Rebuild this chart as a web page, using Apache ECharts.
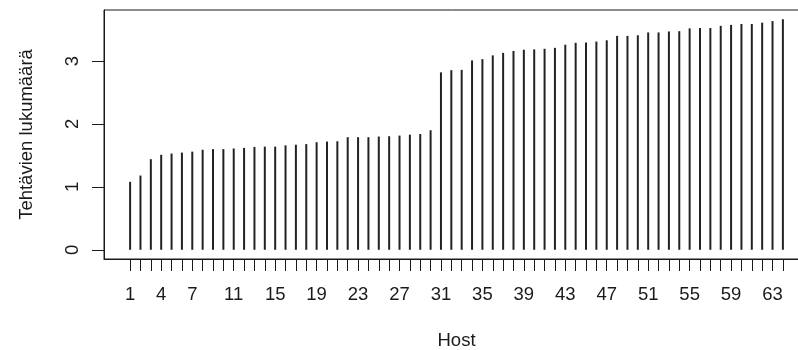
<!DOCTYPE html>
<html>
<head>
<meta charset="utf-8" />
<title>Tehtävien lukumäärä per host</title>
<script src="https://cdn.jsdelivr.net/npm/echarts@6/dist/echarts.min.js"></script>
<style>
  html, body { margin: 0; padding: 0; background: #fff; }
  #container { width: 798px; height: 350px; }
</style>
</head>
<body>
<div id="container"></div>
<script type="text/javascript">
// tasks per host, sorted ascending
var taskCounts = [
  1.08, 1.18, 1.44, 1.51, 1.53, 1.545, 1.56, 1.59, 1.60, 1.60,
  1.61, 1.62, 1.635, 1.64, 1.64, 1.66, 1.67, 1.68, 1.71, 1.72,
  1.725, 1.79, 1.79, 1.79, 1.80, 1.805, 1.815, 1.83, 1.84, 1.90,
  2.82, 2.855, 2.86, 3.01, 3.03, 3.09, 3.13, 3.16, 3.18, 3.185,
  3.195, 3.21, 3.26, 3.29, 3.295, 3.31, 3.33, 3.40, 3.40, 3.41,
  3.455, 3.455, 3.47, 3.475, 3.52, 3.525, 3.525, 3.56, 3.575, 3.59,
  3.59, 3.61, 3.635, 3.665
];
var xLabelValues = [1, 4, 7, 11, 15, 19, 23, 27, 31, 35, 39, 43, 47, 51, 55, 59, 63];
var yLabelValues = [0, 1, 2, 3];

var hosts = taskCounts.map(function (v, i) { return i + 1; });
var n = hosts.length;
var yMax = Math.max.apply(null, taskCounts);

var fontFamily = '"Liberation Sans", Arial, Helvetica, sans-serif';
var ink = '#1a1a1a';

var chart = echarts.init(document.getElementById('container'), null, { renderer: 'canvas' });

var option = {
  animation: false,
  grid: {
    left: 104, top: 10, right: -11, bottom: 91,
    containLabel: false,
    outerBoundsMode: 'none',
    show: true, borderColor: ink, borderWidth: 1, backgroundColor: 'transparent'
  },
  xAxis: {
    type: 'value',
    // R style 4% padding of the data range
    min: 1 - (n - 1) * 0.04,
    max: n + (n - 1) * 0.04,
    name: 'Host',
    nameLocation: 'middle',
    nameGap: 72,
    nameTextStyle: { fontFamily: fontFamily, fontSize: 18.5, color: ink },
    splitLine: { show: false },
    axisLine: { onZero: false, lineStyle: { color: ink, width: 1 } },
    axisTick: { length: 12, customValues: hosts, lineStyle: { color: ink, width: 1 } },
    axisLabel: {
      customValues: xLabelValues,
      margin: 26,
      fontFamily: fontFamily, fontSize: 18.5, color: ink
    }
  },
  yAxis: {
    type: 'value',
    min: -yMax * 0.04,
    max: yMax * 1.04,
    name: 'Tehtävien lukumäärä',
    nameLocation: 'middle',
    nameGap: 68,
    nameTextStyle: { fontFamily: fontFamily, fontSize: 18.5, color: ink },
    splitLine: { show: false },
    axisLine: { onZero: false, lineStyle: { color: ink, width: 1 } },
    axisTick: { length: 12, customValues: yLabelValues, lineStyle: { color: ink, width: 1 } },
    axisLabel: {
      customValues: yLabelValues,
      rotate: 90,
      margin: 22,
      fontFamily: fontFamily, fontSize: 18.5, color: ink
    }
  },
  series: [{
    type: 'bar',
    barWidth: 2,
    silent: true,
    itemStyle: { color: '#222' },
    data: hosts.map(function (h, i) { return [h, taskCounts[i]]; })
  }]
};

chart.setOption(option);
window.addEventListener('resize', chart.resize);
</script>
</body>
</html>
